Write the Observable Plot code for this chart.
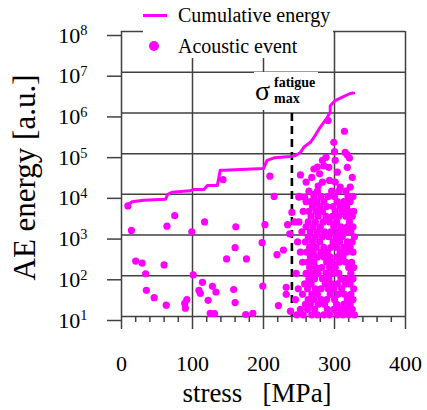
<!DOCTYPE html>
<html><head><meta charset="utf-8">
<script src="https://cdn.jsdelivr.net/npm/d3@7"></script>
<script src="https://cdn.jsdelivr.net/npm/@observablehq/plot@0.6"></script>
<style>
body{margin:0;background:#fff;}
#wrap{position:relative;width:427px;height:410px;overflow:hidden;}
#wrap, #wrap svg, #wrap text {font-family:"Liberation Serif", Tinos, "Times New Roman", Times, "DejaVu Serif", serif;}
.ov{position:absolute;background:#fff;}
</style></head><body><div id="wrap"></div>
<script>
// ---- data ----
const xTicks = [0, 100, 200, 300, 400];
const xMinor = [20, 40, 60, 80, 120, 140, 160, 180, 220, 240, 260, 280, 320, 340, 360, 380];
const yTicks = [1e1, 1e2, 1e3, 1e4, 1e5, 1e6, 1e7, 1e8];
const sigmaMax = [240];
const sigmaLineTop = 1e6;

// cumulative energy curve [stress MPa, energy a.u.]
const cumulative = [
  [9, 5500], [15, 6600], [31, 7200], [62, 7600], [65, 10000], [71, 11200], [97, 12300],
  [102, 13200], [116, 13200], [121, 16600], [135, 16600], [139, 39000], [144, 39000],
  [200, 43000], [205, 68000], [215, 79000], [238, 85000], [245, 90000], [252, 107000],
  [257, 145000], [266, 190000], [271, 250000], [280, 450000], [290, 780000], [294, 1050000],
  [294, 1500000], [301, 2000000], [311, 2450000], [322, 3000000], [327, 3100000]
];

// individual acoustic events outside the dense cluster [stress, energy]
const sparseEvents = [
  [9, 5200], [14, 1300], [64, 1650], [75, 3000], [99, 1200], [117, 2100],
  [20, 230], [29, 205], [60, 185], [34, 112], [101, 105], [35, 44], [46, 29],
  [63, 19], [89, 21], [92, 26], [90, 16], [114, 69], [109, 44], [111, 37], [122, 25],
  [143, 23000], [209, 28000], [215, 8900], [161, 1600], [202, 1800], [234, 1800],
  [237, 1070], [244, 2100], [240, 3600], [160, 490], [148, 260], [176, 260], [198, 650],
  [219, 330], [228, 430], [128, 55], [133, 40], [158, 46], [160, 22], [199, 56],
  [125, 12], [131, 11.7], [175, 11.2], [185, 12], [221, 18.6], [232, 52], [232, 35], [238, 13.5]
];
// upper events of the cluster [stress, energy]
const upperEvents = [
  [252, 30000], [260, 20000], [250, 8500], [271, 10000], [276, 47000], [279, 32000],
  [277, 16000], [285, 50000], [288, 81000], [292, 46000], [293, 22000], [283, 20000],
  [291, 650000], [299, 190000], [300, 112000], [301, 68000], [304, 35000], [301, 20000],
  [314, 355000], [318, 93000], [321, 78000], [318, 46000], [325, 26000], [322, 15000],
  [308, 15000], [258, 8500], [268, 26000], [271, 42000], [283, 68000], [315, 107000]
];
// dense cluster, listed row by row: energy of the row, stresses in that row
const clusterEnergy = [11, 15, 20, 26, 35, 48, 63, 85, 115, 160, 215, 290, 380, 500, 680, 910,
  1200, 1600, 2100, 2900, 3800, 5000, 6600, 8900, 12000];
const clusterStress = [
  [247, 256, 268, 276, 285, 293, 304, 312, 320, 328],
  [252, 262, 272, 290, 299, 308, 316, 325],
  [259, 266, 277, 286, 303, 313, 322],
  [245, 263, 271, 281, 289, 300, 318, 326],
  [255, 268, 276, 294, 305, 314, 323],
  [249, 262, 273, 281, 291, 299, 310, 327],
  [258, 267, 287, 296, 304, 315, 322],
  [264, 272, 283, 292, 309, 318, 326],
  [246, 260, 269, 277, 288, 297, 306, 323],
  [265, 274, 282, 293, 301, 320, 327],
  [255, 262, 271, 289, 297, 307, 316, 324],
  [266, 276, 285, 294, 304, 312],
  [252, 261, 270, 281, 290, 308, 317, 326],
  [265, 274, 285, 295, 303, 313, 322],
  [248, 259, 269, 279, 298, 307, 318, 325],
  [263, 273, 283, 292, 302, 311, 328],
  [254, 266, 276, 286, 295, 305, 314, 323],
  [260, 270, 280, 299, 309, 318, 326],
  [250, 263, 273, 284, 293, 303, 321],
  [267, 277, 288, 297, 306, 316, 325],
  [256, 264, 274, 283, 301, 311, 320, 327],
  [269, 279, 289, 298, 308, 317],
  [260, 266, 275, 285, 304, 313, 322],
  [250, 271, 281, 291, 300, 319, 326],
  [264, 276, 296, 306, 316]
];

const events = [...sparseEvents, ...upperEvents];
clusterStress.forEach((row, i) => row.forEach(s => events.push([s, clusterEnergy[i]])));

const MAG = "#ff00ff";
const GRID = "#404040";

const svg = Plot.plot({
  width: 427, height: 410,
  marginLeft: 121, marginRight: 22, marginTop: 31, marginBottom: 94,
  x: {domain: [0, 400]},
  y: {type: "log", domain: [10, 1e8]},
  style: {fontSize: "22px", background: "#fff", color: "#000"},
  marks: [
    Plot.gridX(xTicks, {stroke: GRID, strokeOpacity: 1, strokeWidth: 1.5}),
    Plot.gridY(yTicks, {stroke: GRID, strokeOpacity: 1, strokeWidth: 1.5}),
    Plot.axisX(xTicks, {tickSize: 13, tickPadding: 26, stroke: GRID, strokeWidth: 1.5, label: null, tickFormat: d => String(d)}),
    Plot.axisX(xMinor, {tickSize: 6, stroke: GRID, strokeWidth: 1.5, text: null, label: null}),
    Plot.axisY(yTicks, {tickSize: 14, tickPadding: 20, dy: 4, stroke: GRID, strokeWidth: 1.5, label: null,
      tickFormat: d => "10^" + Math.round(Math.log10(d))}),
    Plot.ruleX(sigmaMax, {y1: 10, y2: sigmaLineTop, stroke: "#000", strokeWidth: 2.6, strokeDasharray: "8,5"}),
    Plot.dot(events, {x: d => d[0], y: d => d[1], r: 3.6, fill: MAG, stroke: "none"}),
    Plot.line(cumulative, {x: d => d[0], y: d => d[1], stroke: MAG, strokeWidth: 3, curve: "linear"})
  ]
});

// superscript exponents on the y tick labels
d3.select(svg).selectAll('g[aria-label="y-axis tick label"] text').each(function() {
  const t = d3.select(this);
  const [b, e] = t.text().split("^");
  t.text(b);
  t.append("tspan").attr("dy", "-0.5em").attr("font-size", "0.65em").text(e);
});

const s = d3.select(svg);
// axis titles
s.append("text").attr("x", 257).attr("y", 402).attr("text-anchor", "middle")
  .attr("font-size", 27).style("white-space", "pre").attr("fill", "#000").text("stress   [MPa]");
s.append("text").attr("transform", "translate(35,177.5) rotate(-90)").attr("text-anchor", "middle")
  .attr("font-size", 31).attr("fill", "#000").text("AE energy [a.u.]");

const wrap = document.getElementById("wrap");
wrap.appendChild(svg);

// legend overlay
const leg = document.createElement("div");
leg.className = "ov";
leg.style.cssText += "left:143px;top:0;width:190px;height:58px;";
leg.innerHTML = `<svg width="190" height="58">
  <line x1="0" x2="24" y1="15.5" y2="15.5" stroke="${MAG}" stroke-width="3"/>
  <circle cx="11" cy="46" r="5" fill="${MAG}"/>
  <text x="35" y="22" font-size="20" fill="#000">Cumulative energy</text>
  <text x="35" y="53" font-size="20" fill="#000">Acoustic event</text></svg>`;
wrap.appendChild(leg);

// sigma label overlay
const sig = document.createElement("div");
sig.className = "ov";
sig.style.cssText += "left:254px;top:72px;width:64px;height:38px;";
sig.innerHTML = `<svg width="64" height="38">
  <text x="1" y="28" font-size="28" fill="#000">σ</text>
  <text x="20" y="15" font-size="14" font-weight="bold" fill="#000">fatigue</text>
  <text x="20" y="31" font-size="14" font-weight="bold" fill="#000">max</text></svg>`;
wrap.appendChild(sig);
</script></body></html>
